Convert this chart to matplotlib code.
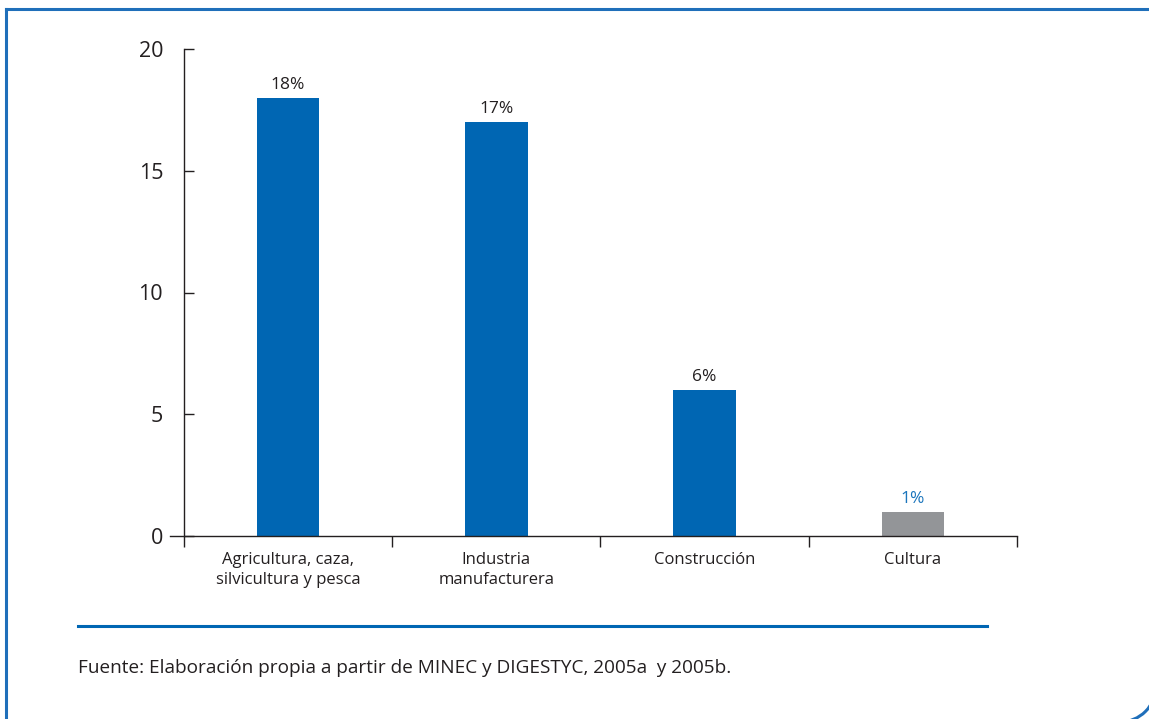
import matplotlib
matplotlib.use("Agg")
import matplotlib.pyplot as plt
from matplotlib.lines import Line2D
from matplotlib.patches import Arc

plt.rcParams['font.family'] = ['Open Sans', 'DejaVu Sans']

# data
categorias = ["Agricultura, caza,\nsilvicultura y pesca", "Industria\nmanufacturera",
              "Construcción", "Cultura"]
valores = [18, 17, 6, 1]
etiquetas = ["18%", "17%", "6%", "1%"]
colores = ["#0066b3", "#0066b3", "#0066b3", "#939598"]
color_etiquetas = ["#231f20", "#231f20", "#231f20", "#1b75bc"]
fuente = "Fuente: Elaboración propia a partir de MINEC y DIGESTYC, 2005a  y 2005b."

W, H = 1149, 719
fig = plt.figure(figsize=(W/100, H/100), dpi=100)
ink = "#231f20"

ax = fig.add_axes([170/W, 1-536/H, (1017-170)/W, (536-49)/H])
x = list(range(len(valores)))
ax.bar(x, valores, width=0.3, color=colores, zorder=2)
for xi, v, t, c in zip(x, valores, etiquetas, color_etiquetas):
    ax.annotate(t, (xi, v), xytext=(0, 6.5), textcoords='offset points',
                ha='center', va='baseline', fontsize=12.5, color=c)

ax.set_xlim(-0.567, 3.5)
ax.set_ylim(0, 20)
ax.set_yticks([0, 5, 10, 15, 20])
ax.tick_params(axis='y', direction='in', length=7, width=1, color=ink,
               labelsize=15.5, labelcolor=ink, pad=15)
ax.set_xticks(x)
ax.set_xticklabels(categorias, fontsize=12, color=ink, linespacing=1.3)
ax.tick_params(axis='x', which='major', length=0, pad=11.5)
ax.set_xticks([-0.5, 0.5, 1.5, 2.5, 3.5], minor=True)
ax.tick_params(axis='x', which='minor', direction='out', length=8, width=1, color=ink)

for s in ['top', 'right']:
    ax.spines[s].set_visible(False)
ax.spines['left'].set_position(('data', -0.5))
for s in ['left', 'bottom']:
    ax.spines[s].set_color(ink)
    ax.spines[s].set_linewidth(1)

# footer rule and source
fig.add_artist(Line2D([78/W, 987/W], [1-626/H, 1-626/H], color="#0066b3", lw=2.2))
fig.text(78/W, 1-673/H, fuente, fontsize=13.7, color=ink, va='baseline', ha='left')

# blue frame: left and top edges, rounded bottom-right corner
frame = "#1f6fba"
fig.add_artist(Line2D([6/W, 6/W], [0, 1-9/H], color=frame, lw=2.2))
fig.add_artist(Line2D([6/W, 1], [1-9/H, 1-9/H], color=frame, lw=2.2))
fig.add_artist(Arc((1120/W, 1-686/H), 72/W, 72/H, theta1=270, theta2=360,
                   color=frame, lw=2.2, transform=fig.transFigure))

fig.savefig("out.png", dpi=100)
